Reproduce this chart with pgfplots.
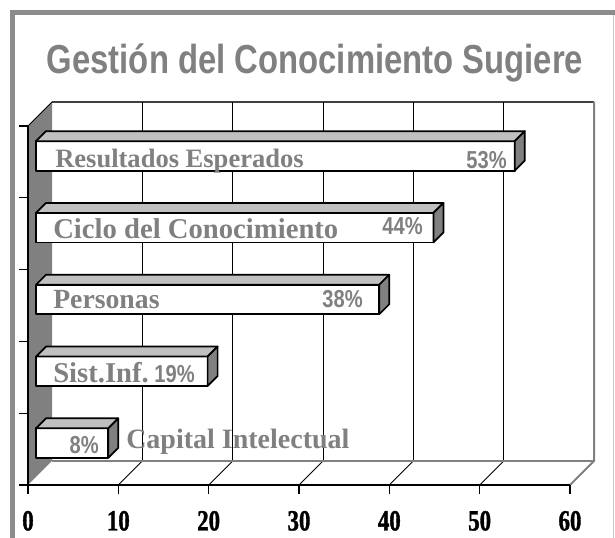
\documentclass[border=0pt]{standalone}
\usepackage{fontspec}
\usepackage{pgfplots}
\usepackage{pgfplotstable}
\pgfplotsset{compat=1.18}
\setmainfont{Liberation Serif}
\newfontfamily\titlefont[FakeStretch=0.81]{Liberation Sans}
\newfontfamily\pctfont[FakeStretch=0.82]{Liberation Sans}
\newfontfamily\tickfont[FakeStretch=0.78, FakeBold=1.2]{Liberation Serif}
\definecolor{lblgray}{HTML}{808080}
\definecolor{titlegray}{HTML}{808080}
\definecolor{framegray}{HTML}{8C8C8C}
\definecolor{wallgray}{HTML}{808080}
\definecolor{topgray}{HTML}{C0C0C0}
\definecolor{sidegray}{HTML}{808080}
\definecolor{axgray}{HTML}{808080}
\newcommand\lbl[1]{\bfseries\fontsize{#1}{#1}\selectfont}
\newcommand\pct{\pctfont\bfseries\fontsize{18.4pt}{18.4pt}\selectfont}

\pgfplotstableread{
y   v
4.5 53
3.5 44
2.5 38
1.5 19
0.5 8
}\bardata

\begin{document}
\begin{tikzpicture}
\path[use as bounding box] (0,0) rectangle (461.25pt,-403.5pt);
\begin{scope}[x=0.75pt,y=-0.75pt]
  % outer frame
  \draw[framegray, line width=3.75pt] (12.5,560) -- (12.5,12.5) -- (630,12.5);
  \draw[black!22, line width=0.75pt] (613.5,15) -- (613.5,560);
  % title
  \node[anchor=base, inner sep=0pt, text=titlegray,
        font=\titlefont\bfseries\fontsize{30.4pt}{30.4pt}\selectfont]
        at (315,74) {Gestión del Conocimiento Sugiere};
  % walls and floor
  \fill[wallgray] (28,126) -- (52,102) -- (52,461) -- (28,485) -- cycle;
  \draw[black, line width=0.6pt] (28,126) -- (52,102);
  \draw[black!75, line width=0.9pt] (52,102) -- (594,102);
  \foreach \v in {10,20,30,40,50} {
    \pgfmathsetmacro\xf{28+\v*9.03333}
    \draw[black, line width=0.7pt] (\xf+24,102) -- (\xf+24,461);
    \draw[black, line width=0.7pt] (\xf,485) -- (\xf+24,461);
  }
  \draw[axgray, line width=1.5pt] (52,461) -- (594,461);
  \draw[axgray, line width=1.5pt] (594,102) -- (594,461) -- (570,485);
\end{scope}

\begin{axis}[
  at={(21pt,-363.75pt)}, anchor=south west,
  scale only axis, width=406.5pt, height=269.25pt,
  xmin=0, xmax=60, ymin=0, ymax=5,
  axis x line*=bottom, axis y line*=left,
  axis line style={-, line width=0.8pt, black},
  xtick={0,10,...,60}, ytick={0,1,...,5}, yticklabels={},
  tick align=outside, major tick length=6.75pt,
  tick style={black, line width=0.8pt},
  /pgf/number format/assume math mode=true,
  xticklabel style={font=\tickfont\bfseries\fontsize{22pt}{22pt}\selectfont,
     text=black, anchor=north, inner sep=0pt, yshift=-12.5pt},
  clip=false,
]
\addplot[
  only marks, scatter,
  mark=*, mark size=0pt, mark options={draw=none, fill=none},
  visualization depends on={\thisrow{v} \as \val},
  scatter/@pre marker code/.code={
    \pgfmathsetmacro\L{\val*6.775}
    \filldraw[fill=white, draw=black, line width=1.3pt, line join=round]
      ({-\L pt+6pt},-6.56pt) rectangle (6pt,15.56pt);
    \filldraw[fill=topgray, draw=black, line width=1.3pt, line join=round]
      ({-\L pt+6pt},15.56pt) -- (6pt,15.56pt) -- (13.5pt,23.06pt) -- ({-\L pt+13.5pt},23.06pt) -- cycle;
    \filldraw[fill=sidegray, draw=black, line width=1.3pt, line join=round]
      (6pt,-6.56pt) -- (13.5pt,0.94pt) -- (13.5pt,23.06pt) -- (6pt,15.56pt) -- cycle;
  },
  scatter/@post marker code/.code={},
] table[x=v, y=y] {\bardata};
\end{axis}

\begin{scope}[x=0.75pt,y=-0.75pt, every node/.style={inner sep=0pt, text=lblgray}]
  \node[anchor=base west, font=\lbl{19.9pt}] at (55,168) {Resultados Esperados};
  \node[anchor=base east, font=\pct] at (507,169) {53\%};
  \node[anchor=base west, font=\lbl{21.5pt}] at (53,239) {Ciclo del Conocimiento};
  \node[anchor=base east, font=\pct] at (423,235) {44\%};
  \node[anchor=base west, font=\lbl{20.8pt}] at (53,309) {Personas};
  \node[anchor=base east, font=\pct] at (363,308) {38\%};
  \node[anchor=base west, font=\lbl{21.5pt}] at (53,383) {Sist.Inf.};
  \node[anchor=base east, font=\pct] at (195,383) {19\%};
  \node[anchor=base east, font=\pct] at (99,454) {8\%};
  \node[anchor=base west, font=\lbl{21pt}] at (126,449) {Capital Intelectual};
\end{scope}
\end{tikzpicture}
\end{document}
